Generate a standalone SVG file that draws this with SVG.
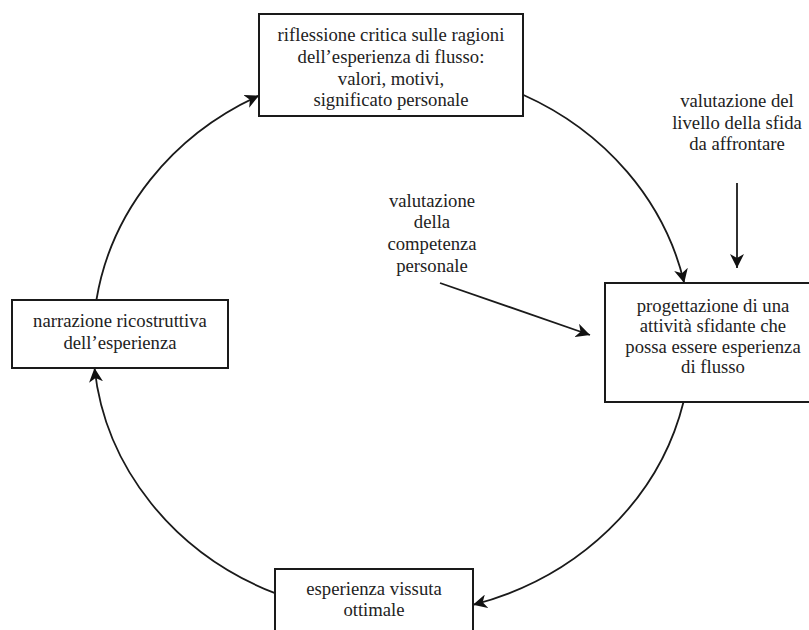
<svg xmlns="http://www.w3.org/2000/svg" width="809" height="630" viewBox="0 0 809 630">
<style>
.box{fill:#fff;stroke:#1a1a1a;stroke-width:2}
.t{font-family:"Liberation Serif","Times New Roman",serif;font-size:18.7px;fill:#222;text-anchor:middle}
.c{fill:none;stroke:#1a1a1a;stroke-width:1.8}
</style>
<defs>
<marker id="ah" markerUnits="userSpaceOnUse" markerWidth="16" markerHeight="14" refX="14" refY="7" orient="auto">
<path d="M0,0 L14,7 L0,14 L4,7 Z" fill="#111"/>
</marker>
</defs>
<rect width="809" height="630" fill="#fff"/>
<g id="connectors">
<path class="c" d="M96.4,300 A299,274 0 0 1 259,95.6" marker-end="url(#ah)"/>
<path class="c" d="M523,94.7 A299,274 0 0 1 684.2,283" marker-end="url(#ah)"/>
<path class="c" d="M683.5,402 A299,274 0 0 1 473,604.8" marker-end="url(#ah)"/>
<path class="c" d="M275,593.2 A299,274 0 0 1 94.5,368" marker-end="url(#ah)"/>
<path class="c" d="M737,183 L737,268" marker-end="url(#ah)"/>
<path class="c" d="M440,283 L590,335" marker-end="url(#ah)"/>
</g>
<g id="node-riflessione">
<rect class="box" x="259" y="14" width="264" height="102"/>
<text class="t" x="391" y="41">riflessione critica sulle ragioni</text>
<text class="t" x="391" y="63">dell’esperienza di flusso:</text>
<text class="t" x="391" y="85">valori, motivi,</text>
<text class="t" x="391" y="106">significato personale</text>
</g>
<g id="node-progettazione">
<rect class="box" x="605" y="283" width="220" height="119"/>
<text class="t" x="713" y="312">progettazione di una</text>
<text class="t" x="713" y="332">attività sfidante che</text>
<text class="t" x="713" y="353">possa essere esperienza</text>
<text class="t" x="713" y="373">di flusso</text>
</g>
<g id="node-esperienza">
<rect class="box" x="275" y="569" width="198" height="80"/>
<text class="t" x="374" y="595">esperienza vissuta</text>
<text class="t" x="374" y="616">ottimale</text>
</g>
<g id="node-narrazione">
<rect class="box" x="12" y="300" width="216" height="68"/>
<text class="t" x="120" y="327">narrazione ricostruttiva</text>
<text class="t" x="120" y="349">dell’esperienza</text>
</g>
<g id="label-sfida">
<text class="t" x="737" y="107">valutazione del</text>
<text class="t" x="737" y="129">livello della sfida</text>
<text class="t" x="737" y="150">da affrontare</text>
</g>
<g id="label-competenza">
<text class="t" x="432" y="207">valutazione</text>
<text class="t" x="432" y="228">della</text>
<text class="t" x="432" y="250">competenza</text>
<text class="t" x="432" y="272">personale</text>
</g>
</svg>
